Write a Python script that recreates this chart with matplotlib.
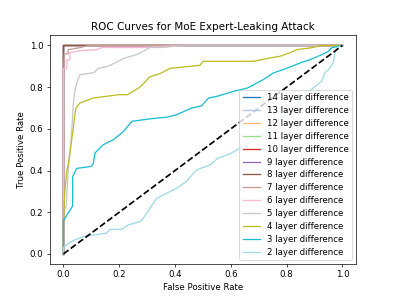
import numpy as np
import matplotlib
matplotlib.use("Agg")
import matplotlib.pyplot as plt

# layer differences, legend order
layers = [14, 13, 12, 11, 10, 9, 8, 7, 6, 5, 4, 3, 2]

perfect_fpr = [0.0, 0.0, 1.0]
perfect_tpr = [0.0, 1.0, 1.0]

fpr_8 = [0.0, 0.0, 0.0, 0.085, 1.0]
tpr_8 = [0.0, 0.88, 1.0, 1.0, 1.0]

fpr_7 = [0.0, 0.0, 0.003, 0.017, 0.017, 0.06, 0.09, 1.0]
tpr_7 = [0.0, 0.83, 0.96, 0.96, 0.98, 0.99, 1.0, 1.0]

fpr_6 = [0.0, 0.0, 0.012, 0.012, 0.023, 0.023, 0.06, 0.12, 0.137, 0.28, 0.43, 1.0]
tpr_6 = [0.0, 0.89, 0.89, 0.93, 0.93, 0.965, 0.975, 0.98, 0.99, 0.99, 1.0, 1.0]

fpr_5 = [0.0, 0.0, 0.01, 0.015, 0.02, 0.026, 0.03, 0.035, 0.04, 0.05, 0.06,
         0.11, 0.125, 0.16, 0.22, 0.26, 0.29, 0.31, 0.35, 0.43, 1.0]
tpr_5 = [0.0, 0.2, 0.23, 0.35, 0.45, 0.52, 0.6, 0.71, 0.78, 0.83, 0.86,
         0.87, 0.89, 0.9, 0.94, 0.955, 0.975, 0.99, 0.99, 1.0, 1.0]

fpr_4 = [0.0, 0.0, 0.005, 0.012, 0.02, 0.026, 0.035, 0.04, 0.045, 0.059, 0.107,
         0.2, 0.23, 0.274, 0.31, 0.346, 0.382, 0.49, 0.5, 0.68, 0.74, 0.776,
         0.81, 0.836, 0.884, 0.926, 1.0]
tpr_4 = [0.0, 0.15, 0.3, 0.4, 0.45, 0.515, 0.6, 0.66, 0.7, 0.724, 0.748,
         0.764, 0.764, 0.8, 0.85, 0.865, 0.89, 0.905, 0.924, 0.924, 0.94, 0.948,
         0.964, 0.98, 0.988, 1.0, 1.0]

fpr_3 = [0.0, 0.0, 0.033, 0.033, 0.047, 0.1, 0.107, 0.113, 0.143, 0.179, 0.215,
         0.245, 0.31, 0.37, 0.406, 0.46, 0.495, 0.52, 0.55, 0.61, 0.66, 0.716,
         0.752, 0.8, 0.848, 0.884, 0.926, 0.95, 0.96, 0.98, 1.0]
tpr_3 = [0.0, 0.16, 0.23, 0.37, 0.41, 0.42, 0.435, 0.484, 0.524, 0.548, 0.587,
         0.636, 0.648, 0.656, 0.668, 0.7, 0.71, 0.748, 0.756, 0.78, 0.796, 0.836,
         0.868, 0.89, 0.916, 0.932, 0.956, 0.972, 0.988, 0.995, 1.0]

fpr_2 = [0.0, 0.0, 0.017, 0.041, 0.071, 0.155, 0.167, 0.209, 0.232, 0.274, 0.286,
         0.334, 0.406, 0.44, 0.477, 0.525, 0.555, 0.59, 0.61, 0.66, 0.72, 0.78,
         0.84, 0.89, 0.926, 0.937, 0.95, 0.967, 0.973, 0.98, 1.0]
tpr_2 = [0.0, 0.03, 0.05, 0.067, 0.083, 0.1, 0.118, 0.118, 0.139, 0.155, 0.171,
         0.267, 0.315, 0.347, 0.403, 0.427, 0.46, 0.476, 0.49, 0.53, 0.58, 0.65,
         0.72, 0.79, 0.83, 0.868, 0.884, 0.916, 0.964, 0.99, 1.0]

fprs = [perfect_fpr] * 6 + [fpr_8, fpr_7, fpr_6, fpr_5, fpr_4, fpr_3, fpr_2]
tprs = [perfect_tpr] * 6 + [tpr_8, tpr_7, tpr_6, tpr_5, tpr_4, tpr_3, tpr_2]

colors = plt.cm.tab20(np.linspace(0, 1, len(layers)))

fig = plt.figure(figsize=(6.4, 4.8))
plt.subplots_adjust(top=0.882)  # puts the y=1 line on a pixel centre
for i in range(len(layers)):
    plt.plot(fprs[i], tprs[i], color=colors[i], lw=1.5,
             label="{} layer difference".format(layers[i]))
plt.plot([0, 1], [0, 1], 'k--', lw=2)
plt.xlabel("False Positive Rate")
plt.ylabel("True Positive Rate")
plt.title("ROC Curves for MoE Expert-Leaking Attack")
plt.legend(loc="lower right", labelspacing=0.45)
plt.savefig("out.png", dpi=61.875)
